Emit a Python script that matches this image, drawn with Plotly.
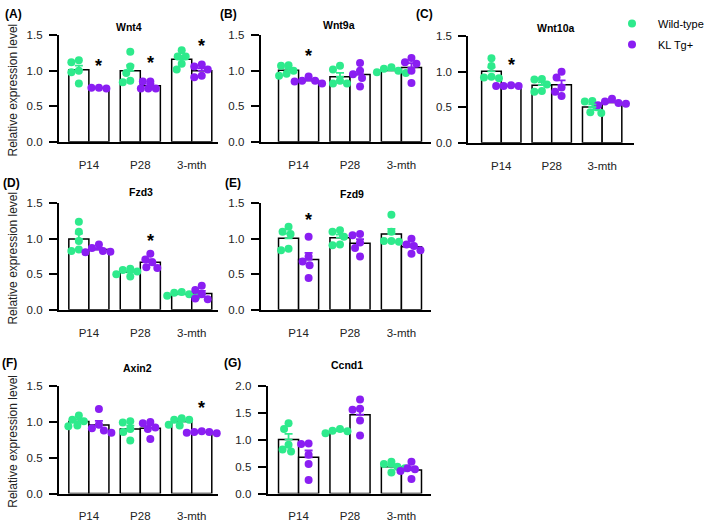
import plotly.graph_objects as go
import numpy as np

# ---------------- DATA ----------------
categories = ["P14", "P28", "3-mth"]
genes = ["Wnt4", "Wnt9a", "Wnt10a", "Fzd3", "Fzd9", "Axin2", "Ccnd1"]
panel_labels = ["(A)", "(B)", "(C)", "(D)", "(E)", "(F)", "(G)"]
series_names = ["Wild-type", "KL Tg+"]
y_title = "Relative expression level"

# individual points per category (P14, P28, 3-mth)
wnt4_wt = [[1.15, 1.12, 1.00, 0.98, 0.82], [1.27, 1.06, 0.97, 0.86, 0.84], [1.29, 1.20, 1.20, 1.10, 1.02]]
wnt4_kl = [[0.76, 0.76, 0.75], [0.85, 0.85, 0.75, 0.75, 0.75], [1.09, 1.06, 1.02, 0.91, 0.93]]

wnt9a_wt = [[1.08, 1.07, 1.00, 0.96, 0.93], [1.07, 1.02, 0.86, 0.82, 0.82], [1.05, 1.03, 1.00, 0.98, 0.97]]
wnt9a_kl = [[0.92, 0.86, 0.86, 0.85, 0.82], [1.11, 1.00, 0.95, 0.90, 0.78], [1.18, 1.12, 1.10, 1.00, 0.83]]

wnt10a_wt = [[1.19, 1.08, 0.93, 0.92, 0.91], [0.90, 0.89, 0.82, 0.73, 0.72], [0.59, 0.58, 0.50, 0.43, 0.42]]
wnt10a_kl = [[0.81, 0.80, 0.80, 0.80], [1.00, 0.92, 0.78, 0.72, 0.66], [0.62, 0.58, 0.56, 0.55, 0.53]]

fzd3_wt = [[1.24, 1.10, 0.97, 0.85, 0.83], [0.58, 0.56, 0.54, 0.50, 0.47], [0.25, 0.24, 0.22, 0.20, 0.19]]
fzd3_kl = [[0.92, 0.87, 0.83, 0.82, 0.81], [0.79, 0.71, 0.67, 0.60, 0.59], [0.34, 0.28, 0.22, 0.16, 0.15]]

fzd9_wt = [[1.17, 1.10, 1.07, 0.86, 0.84], [1.12, 1.10, 1.03, 0.92, 0.91], [1.34, 1.10, 0.97, 0.97, 0.96]]
fzd9_kl = [[1.03, 0.75, 0.68, 0.63, 0.45], [1.07, 1.05, 0.95, 0.87, 0.75], [1.00, 0.92, 0.90, 0.84, 0.79]]

axin2_wt = [[1.09, 1.03, 1.01, 0.95, 0.94], [1.01, 0.99, 0.90, 0.86, 0.74], [1.05, 1.03, 1.03, 0.96, 0.95]]
axin2_kl = [[1.18, 0.96, 0.91, 0.88, 0.85], [1.00, 0.98, 0.92, 0.90, 0.76], [0.87, 0.86, 0.86, 0.85, 0.84]]

ccnd1_wt = [[1.31, 1.20, 0.91, 0.82, 0.78], [1.20, 1.17, 1.16, 1.12], [0.59, 0.55, 0.50, 0.47, 0.39]]
ccnd1_kl = [[0.93, 0.92, 0.72, 0.55, 0.25], [1.75, 1.58, 1.56, 1.36, 1.08], [0.59, 0.47, 0.45, 0.42, 0.27]]

y_max = [1.5, 1.5, 1.5, 1.5, 1.5, 1.5, 2.0]

# significance stars: gene index, category index, y value
star_gene = [0, 0, 0, 1, 2, 3, 4, 5, 6]
star_cat = [0, 1, 2, 0, 0, 1, 0, 2, 1]
star_y = [1.13, 1.17, 1.40, 1.27, 1.15, 1.03, 1.32, 1.245, 2.03]

wt_points = [wnt4_wt, wnt9a_wt, wnt10a_wt, fzd3_wt, fzd9_wt, axin2_wt, ccnd1_wt]
kl_points = [wnt4_kl, wnt9a_kl, wnt10a_kl, fzd3_kl, fzd9_kl, axin2_kl, ccnd1_kl]

# ---------------- LAYOUT / STYLE ----------------
W, H = 709, 522
GREEN = "#2EEA8C"
PURPLE = "#8A1EF2"
FONT = "Liberation Sans, Arial, sans-serif"
# pixel boxes: x0, x1, y0(top), y1(bottom), first category centre px, category spacing px
boxes = [
    (59, 218, 30, 139, 89, 51.5),
    (261, 432, 30, 139, 299, 51.5),
    (469, 635, 31, 140, 502, 50.5),
    (59, 218, 202, 311, 89, 51.5),
    (261, 432, 202, 311, 299, 51.5),
    (59, 218, 389, 499, 89, 51.5),
    (268, 432, 389, 499, 299, 51.5),
]
title_pos = [(129, 22), (339, 19), (557, 23), (141, 190), (352, 192), (138, 371), (347, 367)]
label_pos = [(14, 8), (229, 8), (425, 8), (12, 181), (233, 181), (10, 365), (233, 365)]
BAR_W = 0.39
OFF = BAR_W / 2


def px_x(v):
    return v / W


def px_y(v):
    return 1 - v / H


def swarm(vals, ppu_y, ppu_x, diam=7.5):
    n = len(vals)
    xs = [0.0] * n
    placed = []
    order = sorted(range(n), key=lambda i: -vals[i])
    for i in order:
        y = vals[i] * ppu_y
        best = None
        for step in range(0, 60):
            for sgn in ([1] if step == 0 else [-1, 1]):
                x = sgn * step * 0.5
                if all((x - a) ** 2 + (y - b) ** 2 >= diam ** 2 for a, b in placed):
                    best = x
                    break
            if best is not None:
                break
        placed.append((best, y))
        xs[i] = best / ppu_x
    return xs


fig = go.Figure()
annotations = []
layout_axes = {}

for p, gene in enumerate(genes):
    x0, x1, y0, y1, c0, sp = boxes[p]
    n = "" if p == 0 else str(p + 1)
    xa, ya = "x" + n, "y" + n
    ppu_y = (y1 - y0) / y_max[p]
    cat_idx = np.arange(len(categories))

    groups = [(wt_points[p], GREEN, -OFF, series_names[0]), (kl_points[p], PURPLE, OFF, series_names[1])]
    # bars (mean)
    for pts, col, off, name in groups:
        means = [float(np.mean(v)) for v in pts]
        fig.add_trace(go.Bar(x=cat_idx + off, y=means, width=BAR_W, xaxis=xa, yaxis=ya,
                             marker=dict(color="white", line=dict(color="black", width=1.5)),
                             showlegend=False, hoverinfo="skip"))
    # individual points
    for g, (pts, col, off, name) in enumerate(groups):
        xs, ys = [], []
        for c, vals in enumerate(pts):
            jit = swarm(vals, ppu_y, sp)
            xs += [c + off + j for j in jit]
            ys += list(vals)
        fig.add_trace(go.Scatter(x=xs, y=ys, mode="markers", xaxis=xa, yaxis=ya, name=name,
                                 marker=dict(size=8, color=col), cliponaxis=False,
                                 showlegend=(p == 0), legendgroup=name))
    # error bars (SEM, upward)
    for pts, col, off, name in groups:
        means = [float(np.mean(v)) for v in pts]
        sems = [float(np.std(v, ddof=1) / np.sqrt(len(v))) for v in pts]
        fig.add_trace(go.Scatter(x=cat_idx + off, y=means, mode="markers", xaxis=xa, yaxis=ya,
                                 marker=dict(size=1, color="rgba(0,0,0,0)"),
                                 error_y=dict(type="data", array=sems, arrayminus=[0] * len(sems),
                                              symmetric=False, color=col, thickness=1.8, width=4),
                                 showlegend=False, hoverinfo="skip"))

    yvals = list(np.arange(0, y_max[p] + 0.001, 0.5))
    layout_axes["xaxis" + n] = dict(
        domain=[px_x(x0), px_x(x1)], anchor=ya,
        range=[(x0 - c0) / sp, (x1 - c0) / sp],
        tickvals=list(cat_idx), ticktext=categories, ticks="", showline=True,
        linecolor="black", linewidth=2, showgrid=False, zeroline=False,
        tickfont=dict(size=11.5, color="#222", family=FONT), ticklabelstandoff=11, fixedrange=True)
    layout_axes["yaxis" + n] = dict(
        domain=[px_y(y1), px_y(y0)], anchor=xa, range=[0, y_max[p]],
        tickvals=yvals, ticktext=["%.1f" % v for v in yvals], ticks="outside", ticklen=8,
        tickwidth=1.6, tickcolor="black", showline=True, linecolor="black", linewidth=2,
        showgrid=False, zeroline=False, tickfont=dict(size=11.5, color="#222", family=FONT),
        ticklabelstandoff=4, fixedrange=True)

    tx, ty = title_pos[p]
    annotations.append(dict(x=px_x(tx), y=px_y(ty), xref="paper", yref="paper", text="<b>%s</b>" % gene,
                            showarrow=False, xanchor="center", yanchor="middle",
                            font=dict(size=10.5, color="black", family=FONT)))
    lx, ly = label_pos[p]
    annotations.append(dict(x=px_x(lx), y=px_y(ly), xref="paper", yref="paper", text="<b>%s</b>" % panel_labels[p],
                            showarrow=False, xanchor="center", yanchor="middle",
                            font=dict(size=12, color="black", family=FONT)))
    if p in (0, 3, 5):
        annotations.append(dict(x=px_x(13), y=px_y((y0 + y1) / 2 + 1), xref="paper", yref="paper",
                                text=y_title, textangle=-90, showarrow=False,
                                xanchor="center", yanchor="middle",
                                font=dict(size=12, color="#222", family=FONT)))

for g, c, yv in zip(star_gene, star_cat, star_y):
    n = "" if g == 0 else str(g + 1)
    annotations.append(dict(x=c + OFF, y=yv, xref="x" + n, yref="y" + n, text="<b>*</b>",
                            showarrow=False, xanchor="center", yanchor="middle", yshift=-4,
                            font=dict(size=18, color="black", family=FONT)))

fig.update_layout(
    width=W, height=H, margin=dict(l=0, r=0, t=0, b=0),
    paper_bgcolor="white", plot_bgcolor="white",
    font=dict(family=FONT, color="black"),
    barmode="overlay", annotations=annotations,
    legend=dict(x=px_x(607), y=px_y(3), xanchor="left", yanchor="top",
                font=dict(size=11, color="black", family=FONT), bgcolor="rgba(0,0,0,0)",
                tracegroupgap=2, itemwidth=42),
    **layout_axes,
)

fig.write_html("out.html", config={"displayModeBar": False},
               post_script="document.body.style.margin='0';document.body.style.overflow='hidden';")
